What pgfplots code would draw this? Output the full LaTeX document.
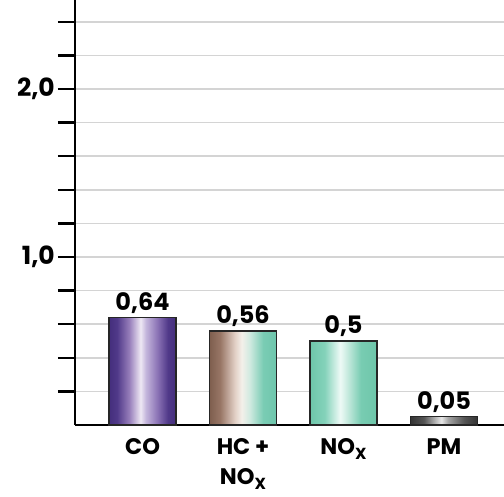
\documentclass[border=0pt]{standalone}
\usepackage{fontspec}
\setmainfont{Poppins}
\usepackage{pgfplots}
\pgfplotsset{compat=1.18}

\newcommand{\subX}{\raisebox{-0.24em}{\fontsize{16}{16}\selectfont X}}

\definecolor{coA}{RGB}{68,46,124}
\definecolor{coB}{RGB}{80,57,137}
\definecolor{coC}{RGB}{150,125,186}
\definecolor{coD}{RGB}{238,232,244}
\definecolor{coE}{RGB}{196,182,220}
\definecolor{coF}{RGB}{140,116,182}

\definecolor{hcA}{RGB}{126,94,78}
\definecolor{hcB}{RGB}{152,118,102}
\definecolor{hcC}{RGB}{226,208,198}
\definecolor{hcD}{RGB}{244,240,234}
\definecolor{hcE}{RGB}{208,234,224}
\definecolor{hcF}{RGB}{122,204,180}
\definecolor{hcG}{RGB}{110,198,172}

\definecolor{noA}{RGB}{110,198,170}
\definecolor{noB}{RGB}{132,210,186}
\definecolor{noC}{RGB}{238,250,246}
\definecolor{noD}{RGB}{198,234,222}
\definecolor{noE}{RGB}{120,204,178}

\definecolor{pmA}{RGB}{52,52,52}
\definecolor{pmB}{RGB}{85,85,85}
\definecolor{pmC}{RGB}{232,232,232}
\definecolor{pmD}{RGB}{165,165,165}

\pgfdeclarehorizontalshading{coshade}{100bp}{color(0bp)=(coA); color(25bp)=(coA); color(31bp)=(coB); color(40bp)=(coC); color(48.5bp)=(coD); color(52.5bp)=(coE); color(61bp)=(coF); color(69bp)=(coB); color(75bp)=(coA); color(100bp)=(coA)}
\pgfdeclarehorizontalshading{hcshade}{100bp}{color(0bp)=(hcA); color(25bp)=(hcA); color(33bp)=(hcB); color(44bp)=(hcC); color(49bp)=(hcD); color(55bp)=(hcE); color(65bp)=(hcF); color(75bp)=(hcG); color(100bp)=(hcG)}
\pgfdeclarehorizontalshading{noshade}{100bp}{color(0bp)=(noA); color(25bp)=(noA); color(36bp)=(noB); color(47.5bp)=(noC); color(53bp)=(noD); color(63bp)=(noE); color(75bp)=(noA); color(100bp)=(noA)}
\pgfdeclarehorizontalshading{pmshade}{100bp}{color(0bp)=(pmA); color(25bp)=(pmA); color(35bp)=(pmB); color(48bp)=(pmC); color(53bp)=(pmD); color(65bp)=(pmB); color(75bp)=(pmA); color(100bp)=(pmA)}

\begin{document}
\begin{tikzpicture}
\begin{axis}[
  scale only axis,
  width=429pt, height=425pt,
  xmin=-0.672, xmax=3.597,
  ymin=0, ymax=2.53,
  axis lines*=left,
  axis line style={line width=2.5pt, black},
  ytick={0.2,0.4,0.6,0.8,1.0,1.2,1.4,1.6,1.8,2.0,2.2,2.4},
  yticklabels={,,,,{1,0},,,,,{2,0},,},
  tick align=outside,
  major tick length=17pt,
  ytick style={line width=2.5pt, black},
  ymajorgrids,
  major grid style={line width=1.5pt, black!17},
  yticklabel style={font=\fontsize{25}{28}\selectfont\bfseries, inner xsep=3pt},
  xtick={0,1,2,3},
  xticklabels={CO,{HC +\\NO\subX},NO\subX,PM},
  xtick style={draw=none},
  xticklabel style={font=\fontsize{22.5}{30}\selectfont\bfseries, align=center, yshift=7pt},
  ybar,
  bar width=67pt,
  point meta=explicit symbolic,
  nodes near coords,
  every node near coord/.append style={font=\fontsize{24}{28}\selectfont\bfseries, black},
]
\addplot[bar shift=0pt, draw=black!85, line width=1.5pt, shade, shading=coshade] coordinates {(0,0.64) [0,64]};
\addplot[bar shift=0pt, draw=black!85, line width=1.5pt, shade, shading=hcshade] coordinates {(1,0.56) [0,56]};
\addplot[bar shift=0pt, draw=black!85, line width=1.5pt, shade, shading=noshade] coordinates {(2,0.5) [0,5]};
\addplot[bar shift=0pt, draw=black!85, line width=1.5pt, shade, shading=pmshade] coordinates {(3,0.05) [0,05]};
\end{axis}
\pgfresetboundingbox
\path[use as bounding box] ([xshift=-75pt,yshift=-71pt]current axis.south west) rectangle ++(504pt,496pt);
\end{tikzpicture}
\end{document}
